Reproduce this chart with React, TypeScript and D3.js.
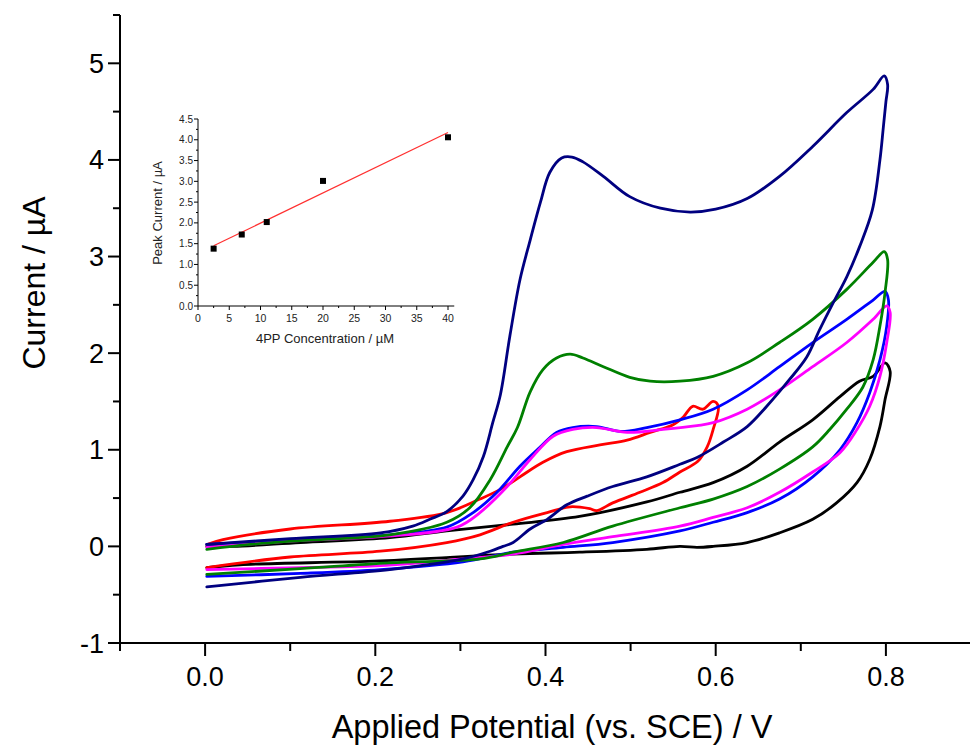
import React from "react";
import * as d3 from "d3";

type Pt = [number, number];

// ---- Main CV curves: [potential V, current µA], forward then reverse scan ----
const navy: Pt[] = [
  [0.002, 0.02], [0.1, 0.08], [0.206, 0.14], [0.244, 0.21], [0.264, 0.28], [0.284, 0.36], [0.303, 0.52],
  [0.315, 0.69], [0.327, 0.93], [0.338, 1.28], [0.347, 1.57], [0.358, 2.17], [0.37, 2.76], [0.382, 3.17],
  [0.394, 3.56], [0.405, 3.87], [0.419, 4.02], [0.431, 4.03], [0.444, 3.98], [0.468, 3.83], [0.499, 3.62],
  [0.535, 3.5], [0.57, 3.46], [0.6, 3.49], [0.637, 3.6], [0.675, 3.83], [0.714, 4.14], [0.754, 4.49],
  [0.785, 4.73], [0.798, 4.87], [0.802, 4.78], [0.8, 4.6], [0.797, 4.34], [0.793, 4.0], [0.784, 3.48],
  [0.769, 3.1], [0.754, 2.79], [0.738, 2.52], [0.722, 2.24], [0.707, 1.96], [0.687, 1.73], [0.66, 1.45],
  [0.637, 1.24], [0.609, 1.08], [0.578, 0.92], [0.558, 0.85], [0.519, 0.72], [0.479, 0.62], [0.449, 0.52],
  [0.425, 0.43], [0.402, 0.28], [0.382, 0.18], [0.362, 0.04], [0.35, 0.0], [0.335, -0.05], [0.303, -0.13],
  [0.217, -0.24], [0.112, -0.32], [0.002, -0.42],
];
const green: Pt[] = [
  [0.002, -0.03], [0.053, 0.02], [0.112, 0.06], [0.217, 0.12], [0.284, 0.25], [0.311, 0.4], [0.335, 0.69],
  [0.355, 1.03], [0.367, 1.23], [0.382, 1.6], [0.397, 1.83], [0.413, 1.95], [0.429, 1.99], [0.444, 1.95],
  [0.468, 1.86], [0.499, 1.75], [0.523, 1.71], [0.558, 1.71], [0.597, 1.76], [0.637, 1.9], [0.675, 2.11],
  [0.714, 2.35], [0.754, 2.66], [0.785, 2.94], [0.798, 3.05], [0.802, 2.97], [0.799, 2.63], [0.793, 2.28],
  [0.785, 1.93], [0.773, 1.65], [0.754, 1.42], [0.734, 1.21], [0.714, 1.03], [0.675, 0.8], [0.637, 0.62],
  [0.597, 0.49], [0.558, 0.4], [0.479, 0.21], [0.421, 0.04], [0.362, -0.06], [0.323, -0.13], [0.217, -0.17],
  [0.112, -0.23], [0.002, -0.29],
];
const blue: Pt[] = [
  [0.002, 0.02], [0.112, 0.07], [0.217, 0.12], [0.284, 0.2], [0.315, 0.35], [0.343, 0.56], [0.37, 0.83],
  [0.394, 1.03], [0.413, 1.18], [0.432, 1.23], [0.46, 1.24], [0.488, 1.19], [0.519, 1.23], [0.558, 1.31],
  [0.597, 1.42], [0.637, 1.62], [0.675, 1.86], [0.714, 2.11], [0.754, 2.35], [0.785, 2.55], [0.799, 2.64],
  [0.803, 2.55], [0.801, 2.28], [0.793, 1.93], [0.781, 1.59], [0.766, 1.28], [0.746, 1.0], [0.714, 0.72],
  [0.675, 0.49], [0.637, 0.35], [0.597, 0.25], [0.558, 0.16], [0.479, 0.04], [0.421, -0.01], [0.362, -0.06],
  [0.303, -0.16], [0.206, -0.24], [0.112, -0.28], [0.002, -0.31],
];
const magenta: Pt[] = [
  [0.002, -0.01], [0.112, 0.06], [0.206, 0.1], [0.296, 0.2], [0.323, 0.35], [0.355, 0.62], [0.382, 0.9],
  [0.409, 1.14], [0.432, 1.21], [0.46, 1.23], [0.496, 1.18], [0.538, 1.21], [0.578, 1.25], [0.597, 1.28],
  [0.637, 1.42], [0.675, 1.62], [0.714, 1.86], [0.754, 2.11], [0.785, 2.35], [0.801, 2.49], [0.805, 2.42],
  [0.801, 2.11], [0.793, 1.76], [0.781, 1.45], [0.766, 1.21], [0.746, 0.97], [0.714, 0.77], [0.675, 0.56],
  [0.637, 0.4], [0.597, 0.3], [0.558, 0.21], [0.479, 0.1], [0.421, 0.02], [0.362, -0.08], [0.303, -0.13],
  [0.206, -0.2], [0.112, -0.22], [0.002, -0.24],
];
const red: Pt[] = [
  [0.002, 0.02], [0.021, 0.07], [0.1, 0.18], [0.217, 0.26], [0.284, 0.35], [0.323, 0.49], [0.347, 0.59],
  [0.37, 0.72], [0.397, 0.87], [0.425, 0.98], [0.464, 1.05], [0.496, 1.1], [0.523, 1.18], [0.55, 1.26],
  [0.562, 1.34], [0.573, 1.45], [0.585, 1.42], [0.597, 1.5], [0.603, 1.45], [0.597, 1.21], [0.59, 1.03],
  [0.579, 0.88], [0.558, 0.77], [0.538, 0.66], [0.511, 0.56], [0.479, 0.45], [0.46, 0.37], [0.452, 0.39],
  [0.429, 0.41], [0.402, 0.35], [0.362, 0.25], [0.323, 0.12], [0.284, 0.04], [0.206, -0.05], [0.1, -0.11],
  [0.002, -0.22],
];
const black: Pt[] = [
  [0.002, 0.0], [0.033, 0.0], [0.112, 0.04], [0.217, 0.09], [0.284, 0.16], [0.362, 0.23], [0.44, 0.31],
  [0.519, 0.46], [0.558, 0.56], [0.597, 0.66], [0.637, 0.83], [0.675, 1.08], [0.714, 1.31], [0.746, 1.55],
  [0.769, 1.71], [0.785, 1.76], [0.799, 1.9], [0.805, 1.81], [0.799, 1.52], [0.793, 1.24], [0.781, 0.9],
  [0.766, 0.66], [0.742, 0.45], [0.714, 0.28], [0.675, 0.14], [0.637, 0.04], [0.597, 0.0], [0.578, -0.01],
  [0.558, 0.0], [0.519, -0.03], [0.44, -0.06], [0.362, -0.08], [0.206, -0.15], [0.041, -0.19], [0.002, -0.22],
];

const seriesData = [black, red, blue, magenta, green, navy];
const seriesColors = ["#000000", "#ff0000", "#0000ff", "#ff00ff", "#008000", "#000080"];

// ---- Inset calibration data ----
const concentrations = [2.5, 7, 11, 20, 40];
const peakCurrents = [1.38, 1.72, 2.02, 3.01, 4.06];

// ---- Tick values ----
const xMajor = [0, 0.2, 0.4, 0.6, 0.8];
const xMinor = [-0.1, 0.1, 0.3, 0.5, 0.7, 0.9];
const yMajor = [-1, 0, 1, 2, 3, 4, 5];
const yMinor = [-0.5, 0.5, 1.5, 2.5, 3.5, 4.5, 5.5];
const inXMajor = [0, 5, 10, 15, 20, 25, 30, 35, 40];
const inXMinor = [2.5, 7.5, 12.5, 17.5, 22.5, 27.5, 32.5, 37.5];
const inYMajor = [0, 0.5, 1, 1.5, 2, 2.5, 3, 3.5, 4, 4.5];
const inYMinor = [0.25, 0.75, 1.25, 1.75, 2.25, 2.75, 3.25, 3.75, 4.25];

const FONT = "'Liberation Sans', Arial, sans-serif";

export default function App() {
  const W = 970, H = 747;
  const x = d3.scaleLinear().domain([-0.1, 0.9]).range([120, 971]);
  const y = d3.scaleLinear().domain([-1, 5.5]).range([643, 15]);

  const line = d3
    .line<Pt>()
    .x((d) => x(d[0]))
    .y((d) => y(d[1]))
    .curve(d3.curveCatmullRom.alpha(0.5));

  // inset
  const ix = d3.scaleLinear().domain([0, 41]).range([198, 454.25]);
  const iy = d3.scaleLinear().domain([0, 4.5]).range([306, 119]);
  const n = concentrations.length;
  const mx = d3.mean(concentrations)!;
  const my = d3.mean(peakCurrents)!;
  let sxy = 0, sxx = 0;
  for (let i = 0; i < n; i++) {
    sxy += (concentrations[i] - mx) * (peakCurrents[i] - my);
    sxx += (concentrations[i] - mx) ** 2;
  }
  const slope = sxy / sxx;
  const icpt = my - slope * mx;
  const x0 = concentrations[0], x1 = concentrations[n - 1];

  const axisStroke = "#000";

  return (
    <svg
      width={W}
      height={H}
      style={{ position: "absolute", left: 0, top: 0, background: "#fff" }}
      fontFamily={FONT}
    >
      <rect x={0} y={0} width={W} height={H} fill="#fff" />

      {/* main axes */}
      <line x1={x(-0.1)} x2={x(0.9)} y1={y(-1)} y2={y(-1)} stroke={axisStroke} strokeWidth={2} />
      <line x1={x(-0.1)} x2={x(-0.1)} y1={y(-1) + 1} y2={y(5.5)} stroke={axisStroke} strokeWidth={2} />
      {xMajor.map((v) => (
        <g key={"xM" + v}>
          <line x1={x(v)} x2={x(v)} y1={y(-1)} y2={y(-1) + 13} stroke={axisStroke} strokeWidth={2} />
          <text x={x(v)} y={y(-1) + 43} fontSize={27} textAnchor="middle" fill="#000">
            {v.toFixed(1)}
          </text>
        </g>
      ))}
      {xMinor.map((v) => (
        <line key={"xm" + v} x1={x(v)} x2={x(v)} y1={y(-1)} y2={y(-1) + 8} stroke={axisStroke} strokeWidth={2} />
      ))}
      {yMajor.map((v) => (
        <g key={"yM" + v}>
          <line x1={x(-0.1) - 12} x2={x(-0.1)} y1={y(v)} y2={y(v)} stroke={axisStroke} strokeWidth={2} />
          <text x={x(-0.1) - 16} y={y(v) + 9.5} fontSize={27} textAnchor="end" fill="#000">
            {v}
          </text>
        </g>
      ))}
      {yMinor.map((v) => (
        <line key={"ym" + v} x1={x(-0.1) - 7} x2={x(-0.1)} y1={y(v)} y2={y(v)} stroke={axisStroke} strokeWidth={2} />
      ))}
      <text x={552} y={738} fontSize={32.5} textAnchor="middle" fill="#000">
        Applied Potential (vs. SCE) / V
      </text>
      <text
        transform={`translate(45, 283) rotate(-90)`}
        fontSize={32}
        textAnchor="middle"
        fill="#000"
      >
        Current / µA
      </text>

      {/* curves */}
      {seriesData.map((s, i) => (
        <path
          key={"s" + i}
          d={line(s) || ""}
          fill="none"
          stroke={seriesColors[i]}
          strokeWidth={2.8}
          strokeLinejoin="round"
          strokeLinecap="round"
        />
      ))}

      {/* inset */}
      <g>
        <line x1={ix(0)} x2={ix(41)} y1={iy(0)} y2={iy(0)} stroke="#000" strokeWidth={1} />
        <line x1={ix(0)} x2={ix(0)} y1={iy(0)} y2={iy(4.5)} stroke="#000" strokeWidth={1} />
        {inXMajor.map((v) => (
          <g key={"ixM" + v}>
            <line x1={ix(v)} x2={ix(v)} y1={iy(0)} y2={iy(0) + 4} stroke="#000" strokeWidth={1} />
            <text x={ix(v)} y={iy(0) + 16} fontSize={10.5} textAnchor="middle" fill="#222">
              {v}
            </text>
          </g>
        ))}
        {inXMinor.map((v) => (
          <line key={"ixm" + v} x1={ix(v)} x2={ix(v)} y1={iy(0)} y2={iy(0) + 2} stroke="#000" strokeWidth={1} />
        ))}
        {inYMajor.map((v) => (
          <g key={"iyM" + v}>
            <line x1={ix(0) - 4} x2={ix(0)} y1={iy(v)} y2={iy(v)} stroke="#000" strokeWidth={1} />
            <text x={ix(0) - 5} y={iy(v) + 3.6} fontSize={10} textAnchor="end" fill="#222">
              {v.toFixed(1)}
            </text>
          </g>
        ))}
        {inYMinor.map((v) => (
          <line key={"iym" + v} x1={ix(0) - 2} x2={ix(0)} y1={iy(v)} y2={iy(v)} stroke="#000" strokeWidth={1} />
        ))}
        <text x={325} y={343} fontSize={13} textAnchor="middle" fill="#222">
          4PP Concentration / µM
        </text>
        <text transform={`translate(162, 213) rotate(-90)`} fontSize={13} textAnchor="middle" fill="#222">
          Peak Current / µA
        </text>
        <line
          x1={ix(x0)}
          x2={ix(x1)}
          y1={iy(icpt + slope * x0)}
          y2={iy(icpt + slope * x1)}
          stroke="#ff3030"
          strokeWidth={1.2}
        />
        {concentrations.map((c, i) => (
          <rect
            key={"p" + i}
            x={ix(c) - 3}
            y={iy(peakCurrents[i]) - 3}
            width={6}
            height={6}
            fill="#000"
          />
        ))}
      </g>
    </svg>
  );
}
